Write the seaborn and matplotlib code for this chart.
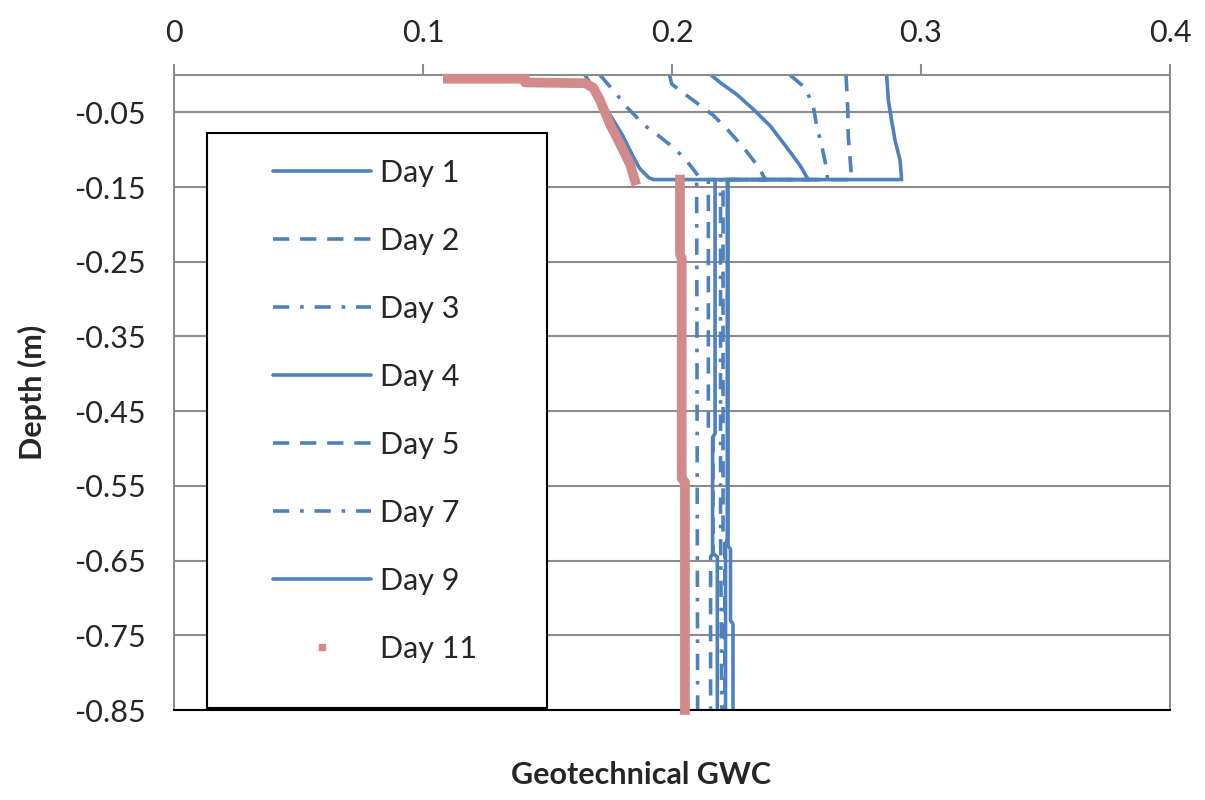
import matplotlib
matplotlib.use("Agg")
import matplotlib.pyplot as plt
from matplotlib.lines import Line2D
from matplotlib.patches import Rectangle
import pandas as pd
import seaborn as sns

# gravimetric water content profiles (x = GWC, y = depth in m)
day1_gwc = [0.2862, 0.2869, 0.2882, 0.2896, 0.2916, 0.2922, 0.2225, 0.2225, 0.2235, 0.2235, 0.2245, 0.2245]
day1_depth = [0, -0.034, -0.061, -0.088, -0.114, -0.14, -0.14, -0.63, -0.635, -0.73, -0.735, -0.85]

day2_gwc = [0.2699, 0.2706, 0.2708, 0.2719, 0.2720, 0.2205, 0.2205, 0.2212, 0.2212]
day2_depth = [0, -0.047, -0.083, -0.128, -0.14, -0.14, -0.62, -0.625, -0.85]

day3_gwc = [0.2474, 0.2534, 0.2567, 0.2581, 0.2601, 0.2618, 0.2625, 0.2195, 0.2195, 0.2200]
day3_depth = [0, -0.017, -0.041, -0.068, -0.094, -0.121, -0.14, -0.14, -0.60, -0.85]

day4_gwc = [0.2157, 0.2193, 0.2260, 0.2327, 0.2394, 0.2461, 0.2514, 0.2547, 0.2222, 0.2222, 0.2215, 0.2215]
day4_depth = [0, -0.010, -0.026, -0.046, -0.068, -0.097, -0.121, -0.14, -0.14, -0.62, -0.63, -0.85]

day5_gwc = [0.1990, 0.1999, 0.2025, 0.2086, 0.2166, 0.2220, 0.2287, 0.2347, 0.2375, 0.2146, 0.2146, 0.2165, 0.2165, 0.2155, 0.2155]
day5_depth = [0, -0.012, -0.019, -0.034, -0.054, -0.072, -0.097, -0.123, -0.14, -0.14, -0.48, -0.485, -0.64, -0.645, -0.85]

day7_gwc = [0.1711, 0.1778, 0.1818, 0.1892, 0.1945, 0.2005, 0.2052, 0.2099, 0.2112, 0.2099, 0.2103]
day7_depth = [0, -0.026, -0.043, -0.068, -0.081, -0.097, -0.112, -0.132, -0.14, -0.14, -0.85]

day9_gwc = [0.1650, 0.1690, 0.1745, 0.1800, 0.1845, 0.1870, 0.1905, 0.1925, 0.2173, 0.2173, 0.2163, 0.2163, 0.2182, 0.2182]
day9_depth = [0, -0.02, -0.05, -0.08, -0.11, -0.125, -0.137, -0.14, -0.14, -0.48, -0.485, -0.64, -0.645, -0.85]

# Day 11 is two pieces (surface layer and deeper layer)
day11_top_gwc = [0.110, 0.141, 0.141, 0.1651, 0.1684, 0.1711, 0.1751, 0.1791, 0.1831, 0.1851]
day11_top_depth = [-0.005, -0.005, -0.010, -0.011, -0.017, -0.034, -0.066, -0.092, -0.119, -0.141]
day11_low_gwc = [0.2032, 0.2032, 0.2039, 0.2039, 0.2052, 0.2052]
day11_low_depth = [-0.14, -0.24, -0.245, -0.54, -0.545, -0.85]

days = ["Day 1", "Day 2", "Day 3", "Day 4", "Day 5", "Day 7", "Day 9"]
gwc_all = [day1_gwc, day2_gwc, day3_gwc, day4_gwc, day5_gwc, day7_gwc, day9_gwc]
depth_all = [day1_depth, day2_depth, day3_depth, day4_depth, day5_depth, day7_depth, day9_depth]

xtick_vals = [0, 0.1, 0.2, 0.3, 0.4]
xtick_labels = ["0", "0.1", "0.2", "0.3", "0.4"]
ytick_vals = [-0.85, -0.75, -0.65, -0.55, -0.45, -0.35, -0.25, -0.15, -0.05]
ytick_labels = ["-0.85", "-0.75", "-0.65", "-0.55", "-0.45", "-0.35", "-0.25", "-0.15", "-0.05"]

blue = "#4F81BD"
red = "#D28A8A"
grey = "#8C8C8C"
solid = ""
dash = (4.5, 3)
dashdot = (4.5, 3, 1, 3)
day_dashes = {"Day 1": solid, "Day 2": dash, "Day 3": dashdot, "Day 4": solid,
              "Day 5": dash, "Day 7": dashdot, "Day 9": solid}
blue_lw = 2.6

rows = []
for d, g, z in zip(days, gwc_all, depth_all):
    for gi, zi in zip(g, z):
        rows.append({"day": d, "gwc": gi, "depth": zi})
df = pd.DataFrame(rows)

red_df = pd.DataFrame({
    "gwc": day11_top_gwc + day11_low_gwc,
    "depth": day11_top_depth + day11_low_depth,
    "seg": [0] * len(day11_top_gwc) + [1] * len(day11_low_gwc),
})

sns.set_style("white")
plt.rcParams["font.family"] = ["Lato", "DejaVu Sans"]

fig = plt.figure(figsize=(12.05, 8), dpi=100)
ax = fig.add_axes([174 / 1205, 1 - 710 / 800, 996 / 1205, 635 / 800])

sns.lineplot(data=df, x="gwc", y="depth", hue="day", style="day",
             palette={d: blue for d in days}, dashes=day_dashes,
             sort=False, estimator=None, linewidth=blue_lw, legend=False, ax=ax)
n_blue = len(ax.lines)
sns.lineplot(data=red_df, x="gwc", y="depth", units="seg", color=red,
             sort=False, estimator=None, linewidth=7, legend=False, ax=ax)
for ln in ax.lines[n_blue:]:
    ln.set_solid_capstyle("projecting")
    ln.set_clip_on(False)
    ln.set_zorder(3)

ax.set_xlim(0, 0.4)
ax.set_ylim(-0.85, 0)
ax.set_xticks(xtick_vals)
ax.set_xticklabels(xtick_labels)
ax.set_yticks(ytick_vals)
ax.set_yticklabels(ytick_labels)
ax.xaxis.tick_top()
ax.xaxis.set_label_position("bottom")

ax.yaxis.grid(True, color=grey, linewidth=1.5)
ax.xaxis.grid(False)
ax.set_axisbelow(True)
for s in ["top", "left", "right"]:
    ax.spines[s].set_color(grey)
    ax.spines[s].set_linewidth(1.5)
ax.spines["bottom"].set_color("black")
ax.spines["bottom"].set_linewidth(1.5)

ax.tick_params(axis="x", direction="out", length=8, width=1.5, color=grey, pad=12, labelsize=22)
ax.tick_params(axis="y", direction="out", length=10, width=1.5, color=grey, pad=10, labelsize=22)

ax.set_xlabel("Geotechnical GWC", fontsize=22, fontweight="bold")
ax.set_ylabel("Depth (m)", fontsize=22, fontweight="bold")
ax.xaxis.set_label_coords(0.469, -0.08)
ax.yaxis.set_label_coords(-0.1275, 0.5)

# legend box
ax.add_patch(Rectangle((0.0331, 0.003), 0.3414, 0.905, transform=ax.transAxes,
                       facecolor="white", edgecolor="black", linewidth=1.5, zorder=8))
handles = []
for d in days:
    dd = day_dashes[d]
    if dd == solid:
        h = Line2D([], [], color=blue, linewidth=blue_lw)
    else:
        h = Line2D([], [], color=blue, linewidth=blue_lw, dashes=dd)
    handles.append(h)
handles.append(Line2D([], [], color=red, marker="s", markersize=5, linestyle="none"))
labels = days + ["Day 11"]
leg = ax.legend(handles, labels, loc="upper left", bbox_to_anchor=(0.0994, 0.868),
                frameon=False, fontsize=22, handlelength=3.2, handletextpad=0.3,
                labelspacing=1.31, borderpad=0, borderaxespad=0)
leg.set_zorder(9)

fig.savefig("out.png", dpi=100)
